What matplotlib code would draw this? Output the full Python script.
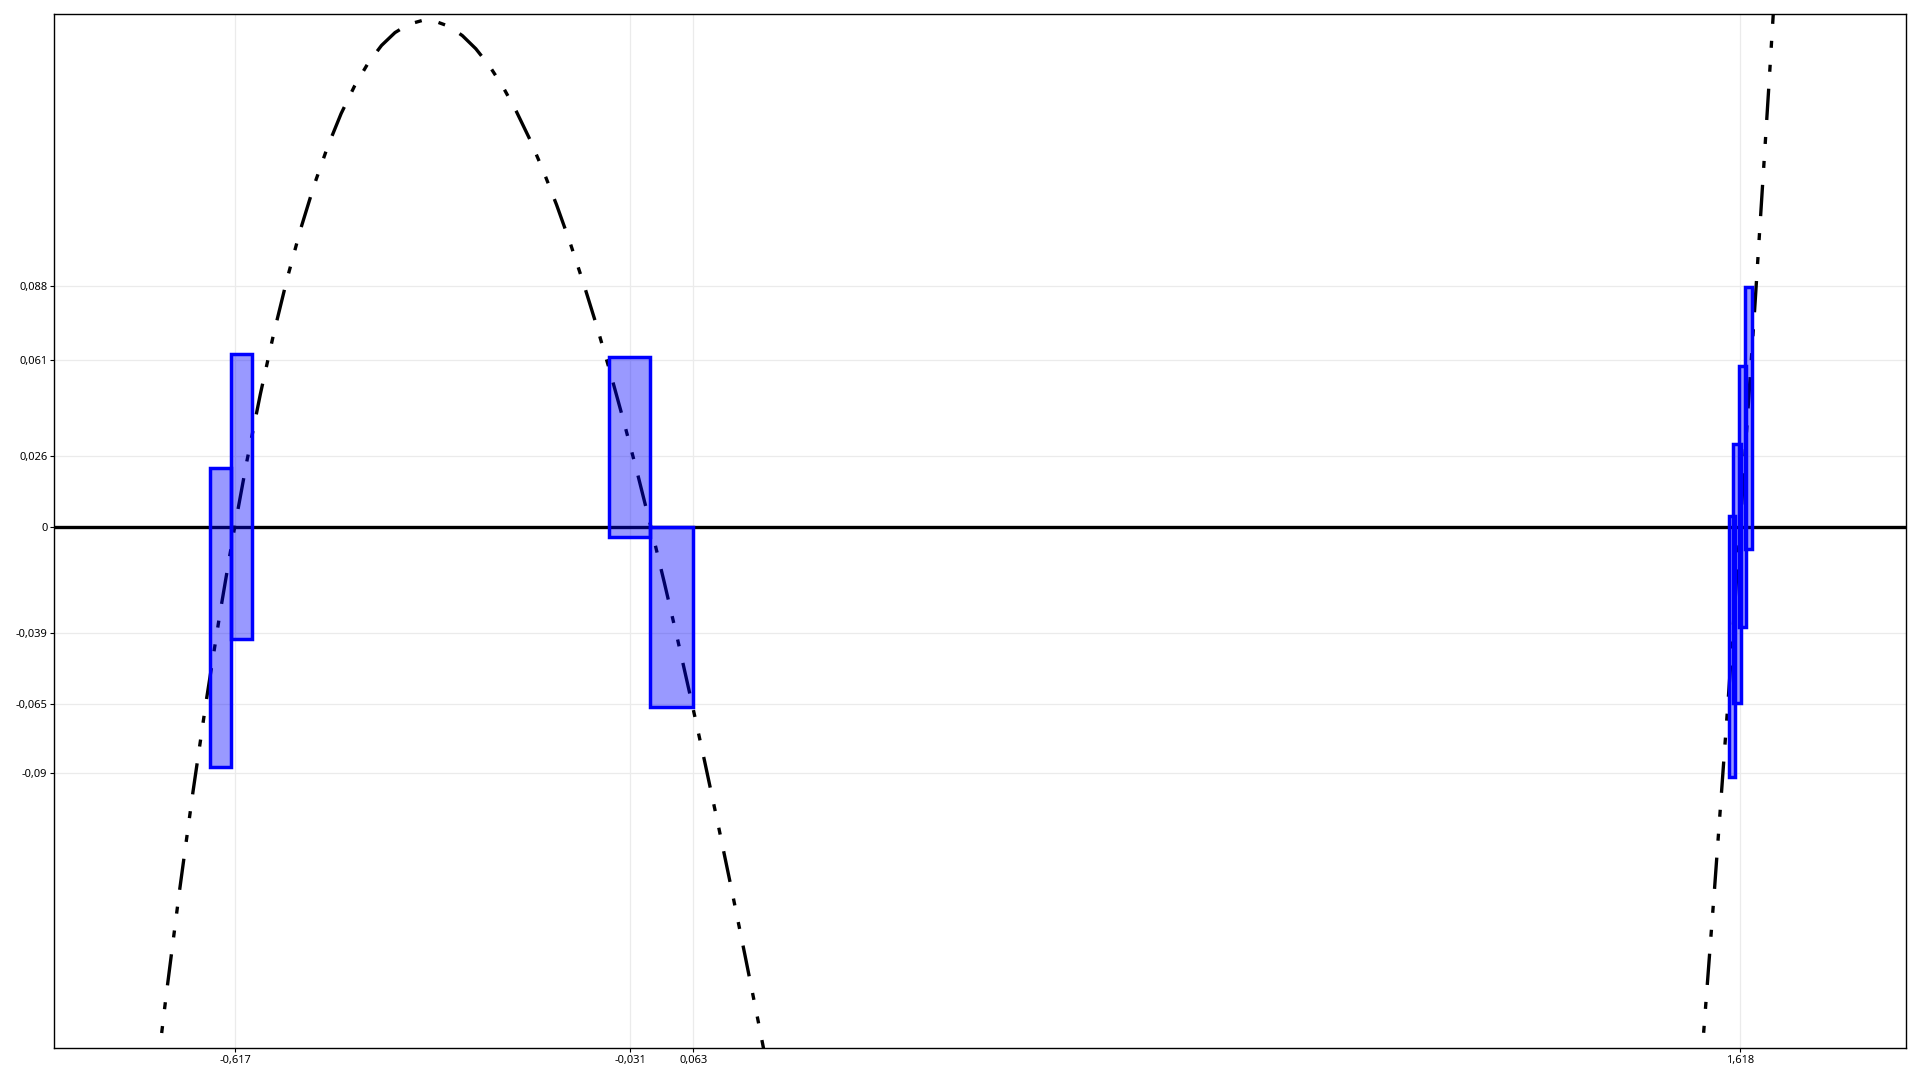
import matplotlib
matplotlib.use('Agg')  # no display
import matplotlib.pyplot as plt

# curve points (dash-dot-dot black line)
curve_x = [-0.76, -0.74, -0.72, -0.70, -0.68, -0.66, -0.64, -0.62, -0.60, -0.58,
           -0.56, -0.54, -0.52, -0.50, -0.48, -0.46, -0.44, -0.42, -0.40, -0.38,
           -0.36, -0.34, -0.32, -0.30, -0.28, -0.26, -0.24, -0.22, -0.20, -0.18,
           -0.16, -0.14, -0.12, -0.10, -0.08, -0.06, -0.04, -0.02, 0.00, 0.02,
           0.04, 0.06, 0.08, 0.10, 0.12, 0.14, 0.16, 0.18, 0.20,
           1.52, 1.54, 1.56, 1.58, 1.60, 1.62, 1.64, 1.66, 1.68]
curve_y = [-0.2566, -0.2128, -0.1716, -0.1330, -0.0968, -0.0631, -0.0317, -0.0027, 0.0240, 0.0485,
           0.0708, 0.0909, 0.1090, 0.1250, 0.1390, 0.1511, 0.1612, 0.1695, 0.1760, 0.1807,
           0.1837, 0.1851, 0.1848, 0.1830, 0.1796, 0.1748, 0.1686, 0.1610, 0.1520, 0.1418,
           0.1303, 0.1177, 0.1039, 0.0890, 0.0731, 0.0562, 0.0383, 0.0196, 0.0000, -0.0204,
           -0.0415, -0.0634, -0.0859, -0.1090, -0.1327, -0.1569, -0.1815, -0.2066, -0.2320,
           -0.3186, -0.2593, -0.1972, -0.1321, -0.0640, 0.0071, 0.0813, 0.1587, 0.2392]

# blue boxes: x span and y span
rect_left = [-0.6546, -0.6238, -0.0627, -0.0006, 1.601, 1.608, 1.617, 1.625]
rect_right = [-0.6238, -0.5922, -0.0006, 0.063, 1.611, 1.619, 1.627, 1.636]
rect_bottom = [-0.0878, -0.0411, -0.0039, -0.066, -0.0915, -0.0645, -0.0367, -0.008]
rect_top = [0.0216, 0.0631, 0.0622, 0.0, 0.004, 0.0303, 0.0588, 0.0878]

x_ticks = [-0.617, -0.031, 0.063, 1.618]
y_ticks = [0.088, 0.061, 0.026, 0, -0.039, -0.065, -0.09]


def comma(v):
    return f"{v:g}".replace('.', ',')


plt.rcParams['font.family'] = ['Noto Sans', 'DejaVu Sans']

fig, ax = plt.subplots(figsize=(19.2, 10.8), dpi=100)
fig.subplots_adjust(left=0.0283, right=0.9926, top=0.9868, bottom=0.0294)

# grid at the tick values only
ax.set_axisbelow(True)
ax.grid(True, color='#ebebeb', linewidth=0.9, zorder=0)

ax.axhline(0, color='black', linewidth=2.4, zorder=2)
ax.plot(curve_x, curve_y, color='black', linewidth=2.4,
        dashes=(9.4, 5.1, 2.1, 5.1, 2.1, 5.1), zorder=3)

widths = [r - l for l, r in zip(rect_left, rect_right)]
heights = [t - b for b, t in zip(rect_bottom, rect_top)]
ax.bar(rect_left, heights, width=widths, bottom=rect_bottom, align='edge',
       facecolor=(0, 0, 1, 0.4), edgecolor='#0000ff', linewidth=2.5, zorder=4)

ax.set_xlim(-0.886, 1.864)
ax.set_ylim(-0.1907, 0.1874)

ax.set_xticks(x_ticks)
ax.set_xticklabels([comma(v) for v in x_ticks])
ax.set_yticks(y_ticks)
ax.set_yticklabels([comma(v) for v in y_ticks])
ax.tick_params(axis='both', labelsize=8, length=3, width=0.8, pad=2, colors='black')

for s in ax.spines.values():
    s.set_color('black')
    s.set_linewidth(1.0)

plt.savefig('out.png', dpi=100)
